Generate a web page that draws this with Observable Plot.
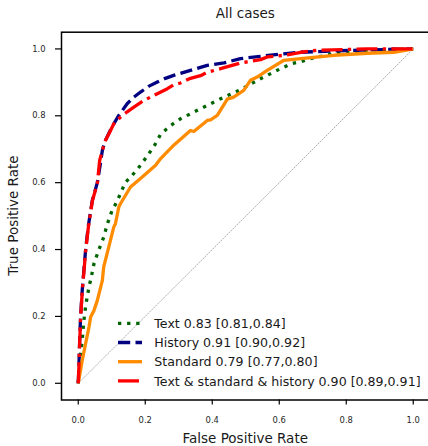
<!DOCTYPE html>
<html>
<head>
<meta charset="utf-8">
<script src="https://cdn.jsdelivr.net/npm/d3@7"></script>
<script src="https://cdn.jsdelivr.net/npm/@observablehq/plot@0.6"></script>
<style>
  html, body { margin: 0; padding: 0; background: #fff; overflow: hidden; }
  #wrap { position: relative; width: 428px; height: 446px; font-family: "DejaVu Sans", sans-serif; }
  #wrap svg.overlay { position: absolute; left: 0; top: 0; pointer-events: none; }
</style>
</head>
<body>
<div id="wrap"></div>
<script>
// ---- data ----
const titleText = "All cases";
const xLabel = "False Positive Rate";
const yLabel = "True Positive Rate";
const xTicks = [0.0, 0.2, 0.4, 0.6, 0.8, 1.0];
const yTicks = [0.0, 0.2, 0.4, 0.6, 0.8, 1.0];

const seriesNames = [
  "Text 0.83 [0.81,0.84]",
  "History 0.91 [0.90,0.92]",
  "Standard 0.79 [0.77,0.80]",
  "Text & standard & history 0.90 [0.89,0.91]"
];
const seriesColors = ["#006400", "#000080", "#ff8c00", "#ff0000"];
const seriesDash = ["3.3,5.8", "12.2,5.3", null, "21,5.3,3.3,5.3"];

const textFpr = [0, 0.005, 0.012, 0.015, 0.019, 0.025, 0.032, 0.039, 0.047, 0.061, 0.076, 0.087, 0.101, 0.111, 0.126, 0.140, 0.161, 0.186, 0.211, 0.228, 0.246, 0.276, 0.305, 0.365, 0.425, 0.484, 0.544, 0.594, 0.634, 0.664, 0.693, 0.763, 0.863, 0.94, 1];
const textTpr = [0, 0.069, 0.129, 0.168, 0.208, 0.248, 0.288, 0.318, 0.358, 0.398, 0.437, 0.477, 0.517, 0.535, 0.567, 0.600, 0.622, 0.652, 0.687, 0.712, 0.745, 0.771, 0.791, 0.821, 0.851, 0.878, 0.911, 0.936, 0.955, 0.962, 0.971, 0.986, 0.996, 0.999, 1];

const historyFpr = [0, 0.002, 0.004, 0.007, 0.012, 0.017, 0.022, 0.030, 0.042, 0.057, 0.065, 0.072, 0.081, 0.095, 0.106, 0.121, 0.146, 0.165, 0.186, 0.210, 0.236, 0.260, 0.285, 0.335, 0.385, 0.435, 0.484, 0.544, 0.600, 0.664, 0.762, 0.863, 0.950, 1];
const historyTpr = [0, 0.050, 0.120, 0.200, 0.280, 0.340, 0.400, 0.470, 0.547, 0.600, 0.650, 0.697, 0.726, 0.755, 0.776, 0.801, 0.836, 0.855, 0.871, 0.888, 0.901, 0.912, 0.921, 0.936, 0.951, 0.958, 0.971, 0.978, 0.984, 0.990, 0.994, 0.997, 0.999, 1];

const standardFpr = [0, 0.012, 0.022, 0.032, 0.037, 0.047, 0.057, 0.072, 0.076, 0.091, 0.106, 0.111, 0.121, 0.126, 0.156, 0.191, 0.231, 0.246, 0.285, 0.335, 0.345, 0.385, 0.395, 0.415, 0.445, 0.464, 0.494, 0.514, 0.534, 0.564, 0.614, 0.664, 0.763, 0.863, 0.942, 1];
const standardTpr = [0, 0.069, 0.119, 0.168, 0.198, 0.218, 0.248, 0.308, 0.348, 0.407, 0.467, 0.477, 0.527, 0.537, 0.587, 0.617, 0.652, 0.672, 0.712, 0.756, 0.753, 0.786, 0.788, 0.801, 0.850, 0.856, 0.876, 0.906, 0.916, 0.936, 0.966, 0.971, 0.981, 0.987, 0.990, 1];

const combinedFpr = [0, 0.002, 0.004, 0.007, 0.012, 0.017, 0.022, 0.030, 0.042, 0.057, 0.064, 0.072, 0.081, 0.095, 0.106, 0.126, 0.146, 0.166, 0.196, 0.216, 0.236, 0.266, 0.285, 0.305, 0.335, 0.365, 0.385, 0.425, 0.435, 0.484, 0.544, 0.564, 0.624, 0.664, 0.713, 0.863, 1];
const combinedTpr = [0, 0.050, 0.115, 0.195, 0.275, 0.335, 0.395, 0.465, 0.545, 0.598, 0.667, 0.697, 0.726, 0.753, 0.776, 0.796, 0.812, 0.826, 0.846, 0.856, 0.866, 0.881, 0.893, 0.898, 0.912, 0.920, 0.930, 0.941, 0.944, 0.958, 0.968, 0.976, 0.982, 0.990, 0.996, 1.0, 1];

const diagFpr = [0, 1];
const diagTpr = [0, 1];

// ---- build tables ----
const seriesData = [
  [textFpr, textTpr],
  [historyFpr, historyTpr],
  [standardFpr, standardTpr],
  [combinedFpr, combinedTpr]
].map(([fx, ty], i) => fx.map((f, j) => ({fpr: f, tpr: ty[j], s: seriesNames[i]})));
const diag = diagFpr.map((f, i) => ({fpr: f, tpr: diagTpr[i]}));

const W = 428, H = 446;
const mL = 61, mR = -1.5, mT = 31.7, mB = 46.5;

const marks = [
  Plot.frame({stroke: "black", strokeWidth: 1.5}),
  Plot.axisX({ticks: xTicks, tickFormat: d3.format(".1f"), tickSize: 5, tickPadding: 12,
    fontSize: 8.4, label: null, strokeWidth: 1.2, fill: "#262626"}),
  Plot.axisY({ticks: yTicks, tickFormat: d3.format(".1f"), tickSize: 6, tickPadding: 10,
    fontSize: 8.4, label: null, strokeWidth: 1.2, fill: "#262626"}),
  Plot.line(diag, {x: "fpr", y: "tpr", stroke: "#9a9a9a", strokeWidth: 0.8, strokeDasharray: "1.2,1.6"})
];
seriesData.forEach((d, i) => {
  marks.push(Plot.line(d, {x: "fpr", y: "tpr", stroke: seriesColors[i], strokeWidth: 3.3,
    strokeDasharray: seriesDash[i] || undefined, strokeLinecap: "butt", strokeLinejoin: "round"}));
});

const chart = Plot.plot({
  width: W, height: H,
  marginLeft: mL, marginRight: mR, marginTop: mT, marginBottom: mB,
  style: {fontFamily: "DejaVu Sans", background: "white", color: "black", overflow: "visible"},
  x: {domain: [-0.05, 1.05]},
  y: {domain: [-0.05, 1.05]},
  marks
});
const wrap = document.getElementById("wrap");
wrap.appendChild(chart);

// ---- overlay: title, axis labels, legend ----
const cx = (mL + (W - mR)) / 2;
const cy = (mT + (H - mB)) / 2;
const ov = d3.select(wrap).append("svg").attr("class", "overlay")
  .attr("width", W).attr("height", H)
  .style("font-family", "DejaVu Sans");

ov.append("text").attr("x", cx).attr("y", 18.3).attr("text-anchor", "middle")
  .attr("font-size", 13.5).attr("fill", "#1a1a1a").text(titleText);
ov.append("text").attr("x", cx).attr("y", 442.7).attr("text-anchor", "middle")
  .attr("font-size", 13.5).attr("fill", "#1a1a1a").text(xLabel);
ov.append("text").attr("transform", `translate(17.7,${cy}) rotate(-90)`).attr("text-anchor", "middle")
  .attr("font-size", 13.5).attr("fill", "#1a1a1a").text(yLabel);

const leg = ov.append("g");
const row0 = 323.3, rowStep = 19.2;
seriesNames.forEach((name, i) => {
  const y = row0 + i * rowStep;
  leg.append("line").attr("x1", 118).attr("x2", 142).attr("y1", y).attr("y2", y)
    .attr("stroke", seriesColors[i]).attr("stroke-width", 3.3)
    .attr("stroke-dasharray", seriesDash[i] || null);
  leg.append("text").attr("x", 154.3).attr("y", y + 4.6)
    .attr("font-size", 12.6).attr("fill", "#1a1a1a").text(name);
});
</script>
</body>
</html>
